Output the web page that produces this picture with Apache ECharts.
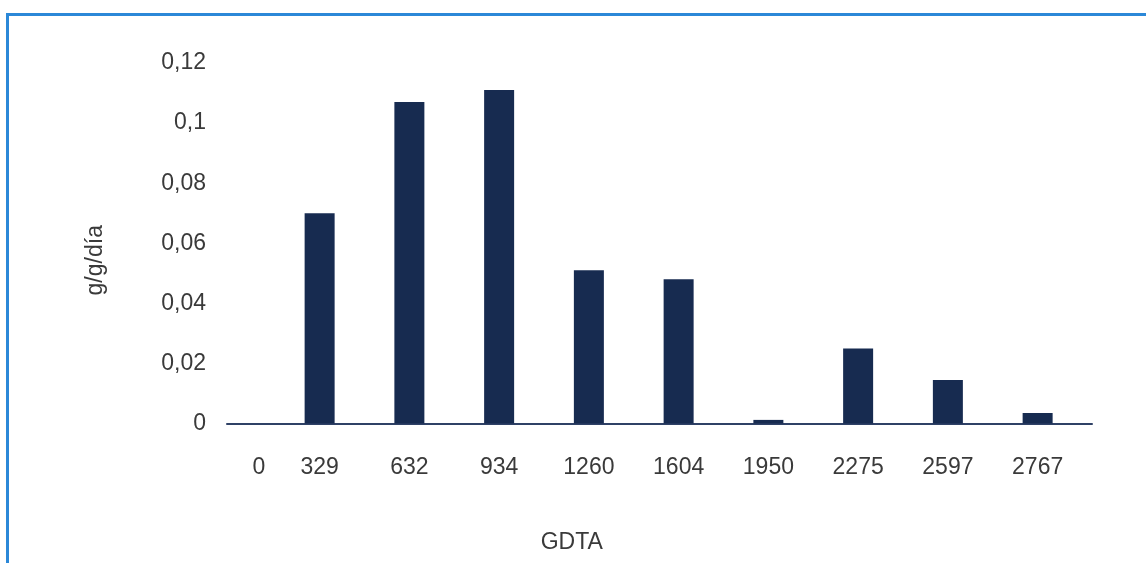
<!DOCTYPE html>
<html>
<head>
<meta charset="utf-8">
<script src="https://cdn.jsdelivr.net/npm/echarts@6/dist/echarts.min.js"></script>
<style>
  html, body { margin: 0; padding: 0; background: #fff; overflow: hidden; }
  #frame {
    position: absolute; left: 6px; top: 13px; width: 1200px; height: 600px;
    border-top: 3px solid #2b88d8; border-left: 3px solid #2b88d8;
    box-sizing: border-box;
  }
  #chart { position: absolute; left: 0; top: 0; width: 1146px; height: 563px; }
</style>
</head>
<body>
<div id="frame"></div>
<div id="chart"></div>
<script>
// GDTA classes and growth rate (g/g/día)
const categories = ['0', '329', '632', '934', '1260', '1604', '1950', '2275', '2597', '2767'];
const rates = [0, 0.070, 0.107, 0.111, 0.051, 0.048, 0.0012, 0.025, 0.0145, 0.0035];
const yMin = 0, yMax = 0.12, yStep = 0.02;
const xTitle = 'GDTA';
const yTitle = 'g/g/día';

const FONT = 'Liberation Sans';
const FS = 23;
const TXT = '#3a3a3a';
const fmtY = v => String(Number(v.toFixed(2))).replace('.', ',');

const chart = echarts.init(document.getElementById('chart'), null, { renderer: 'canvas' });
chart.setOption({
  animation: false,
  textStyle: { fontFamily: FONT },
  grid: [
    { left: 185, right: 63.5, top: 63, bottom: 139.5 },
    { left: 227, right: 54, top: 63, bottom: 139.5 }
  ],
  xAxis: [
    {
      type: 'category', gridIndex: 0, data: categories,
      axisLine: { show: false }, axisTick: { show: false },
      axisLabel: {
        margin: 33, fontSize: FS, color: TXT, fontFamily: FONT,
        formatter: (v, i) => i === 0 ? '{s|' + v + '}' : v,
        rich: { s: { padding: [0, 0, 0, 58], fontSize: FS, color: TXT, fontFamily: FONT } }
      },
      name: xTitle, nameLocation: 'middle', nameGap: 108,
      nameTextStyle: { fontSize: FS, color: TXT, fontFamily: FONT, padding: [0, 124, 0, 0] }
    },
    {
      type: 'value', gridIndex: 1, min: 0, max: 1,
      axisLine: { show: true, lineStyle: { color: '#2f4166', width: 2 } },
      axisTick: { show: false }, axisLabel: { show: false }, splitLine: { show: false }
    }
  ],
  yAxis: [
    { type: 'value', gridIndex: 0, min: yMin, max: yMax, interval: yStep, show: false },
    {
      type: 'value', gridIndex: 1, min: yMin, max: yMax, interval: yStep,
      axisLine: { show: false }, axisTick: { show: false }, splitLine: { show: false },
      axisLabel: {
        margin: 21, fontSize: FS, color: TXT, fontFamily: FONT, formatter: fmtY,
        padding: [5, 0, 0, 0]
      },
      name: yTitle, nameLocation: 'middle', nameRotate: 90, nameGap: 120,
      nameTextStyle: { fontSize: FS, color: TXT, fontFamily: FONT, padding: [0, 34, 0, 0] }
    }
  ],
  series: [{
    type: 'bar', xAxisIndex: 0, yAxisIndex: 0,
    data: rates, barWidth: 30,
    itemStyle: { color: '#172b50' }
  }]
});
</script>
</body>
</html>
